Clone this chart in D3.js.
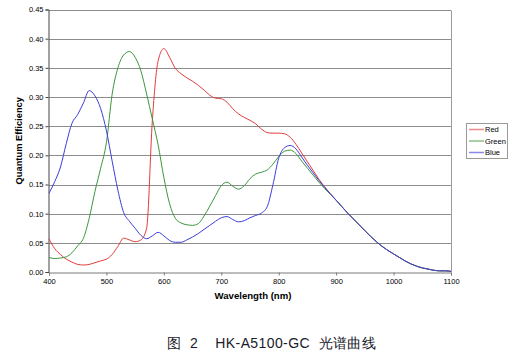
<!DOCTYPE html>
<html><head><meta charset="utf-8">
<script src="https://cdn.jsdelivr.net/npm/d3@7"></script>
<style>
body{margin:0;background:#fff;}
svg{display:block;}
text{font-family:"Liberation Sans",Arial,sans-serif;}
</style></head>
<body>
<script>
const wavelengths = [400,410,420,430,440,450,460,470,480,490,500,510,520,530,540,550,560,570,580,590,600,610,620,630,640,650,660,670,680,690,700,710,720,730,740,750,760,770,780,790,800,810,820,830,840,850,860,870,880,890,900,910,920,930,940,950,960,970,980,990,1000,1010,1020,1030,1040,1050,1060,1070,1080,1090,1100];
const redQE = [0.057,0.040,0.030,0.022,0.017,0.013,0.012,0.013,0.016,0.019,0.022,0.030,0.044,0.058,0.055,0.052,0.055,0.075,0.260,0.362,0.383,0.368,0.349,0.340,0.333,0.327,0.320,0.312,0.303,0.298,0.297,0.291,0.280,0.271,0.265,0.260,0.254,0.245,0.239,0.238,0.238,0.237,0.231,0.219,0.204,0.189,0.174,0.159,0.146,0.134,0.123,0.112,0.101,0.091,0.081,0.071,0.061,0.052,0.044,0.037,0.031,0.025,0.019,0.014,0.010,0.007,0.005,0.003,0.002,0.002,0.001];
const greenQE = [0.025,0.023,0.024,0.026,0.033,0.045,0.058,0.092,0.138,0.178,0.222,0.305,0.350,0.372,0.378,0.368,0.345,0.305,0.262,0.218,0.162,0.117,0.092,0.084,0.081,0.080,0.083,0.096,0.113,0.131,0.148,0.154,0.147,0.142,0.148,0.160,0.168,0.171,0.175,0.185,0.198,0.207,0.209,0.203,0.190,0.178,0.166,0.154,0.143,0.133,0.123,0.112,0.101,0.091,0.081,0.071,0.061,0.052,0.044,0.037,0.031,0.025,0.019,0.014,0.010,0.007,0.005,0.003,0.002,0.002,0.001];
const blueQE = [0.135,0.155,0.180,0.220,0.255,0.270,0.290,0.311,0.302,0.280,0.242,0.190,0.140,0.102,0.087,0.075,0.063,0.057,0.062,0.068,0.062,0.054,0.051,0.051,0.055,0.060,0.066,0.073,0.080,0.087,0.093,0.095,0.090,0.086,0.088,0.093,0.097,0.101,0.112,0.150,0.195,0.213,0.217,0.211,0.197,0.183,0.170,0.157,0.145,0.134,0.123,0.112,0.101,0.091,0.081,0.071,0.061,0.052,0.044,0.037,0.031,0.025,0.019,0.014,0.010,0.007,0.005,0.003,0.002,0.002,0.001];
const seriesNames = ["Red","Green","Blue"];
const seriesColors = ["#e23c3c","#3c963c","#3c3cdc"];
const xTicks = [400,500,600,700,800,900,1000,1100];
const yTicks = [0,0.05,0.10,0.15,0.20,0.25,0.30,0.35,0.40,0.45];
const xTitle = "Wavelength (nm)";
const yTitle = "Quantum Efficiency";
const caption = "图  2    HK-A5100-GC  光谱曲线";

const W = 521, H = 360;
const m = {left:49, right:451, top:9.5, bottom:272};
const svg = d3.select("body").append("svg").attr("width",W).attr("height",H);
const x = d3.scaleLinear().domain([400,1100]).range([m.left,m.right]);
const y = d3.scaleLinear().domain([0,0.45]).range([m.bottom,m.top]);

// gridlines
svg.append("g").selectAll("line").data(yTicks.filter(d=>d>0)).join("line")
  .attr("x1",m.left).attr("x2",m.right)
  .attr("y1",d=>Math.round(y(d))+0.5).attr("y2",d=>Math.round(y(d))+0.5)
  .attr("stroke","#8c8c8c").attr("stroke-width",1);
// right border
svg.append("line").attr("x1",m.right+0.5).attr("x2",m.right+0.5)
  .attr("y1",Math.round(y(0.45))+0.5).attr("y2",m.bottom)
  .attr("stroke","#9a9a9a");

// axes
const xAxis = d3.axisBottom(x).tickValues(xTicks).tickFormat(d3.format("d")).tickSize(3).tickPadding(3);
const gx = svg.append("g").attr("transform",`translate(0,${Math.round(m.bottom)+0.5})`).call(xAxis);
gx.select(".domain").attr("stroke","#7a7a7a");
gx.selectAll(".tick line").attr("stroke","#7a7a7a");
gx.selectAll("text").attr("font-size","7.5px").attr("fill","#000").attr("font-family","Liberation Sans, Arial, sans-serif");

const yAxis = d3.axisLeft(y).tickValues(yTicks).tickFormat(d3.format(".2f")).tickSize(3).tickPadding(2);
const gy = svg.append("g").attr("transform",`translate(${Math.round(m.left)-0.5},0)`).call(yAxis);
gy.select(".domain").attr("stroke","#444");
gy.selectAll(".tick line").attr("stroke","#444");
gy.selectAll("text").attr("font-size","7.5px").attr("fill","#000").attr("font-family","Liberation Sans, Arial, sans-serif");

// lines
const allSeries = [redQE, greenQE, blueQE];
const line = d3.line().x((d,i)=>x(wavelengths[i])).y(d=>y(d)).curve(d3.curveMonotoneX);
allSeries.forEach((vals,k)=>{
  svg.append("path").datum(vals).attr("d",line)
    .attr("fill","none").attr("stroke",seriesColors[k]).attr("stroke-width",1);
});

// titles
svg.append("text").attr("x",(m.left+m.right)/2+3).attr("y",299).attr("text-anchor","middle")
  .attr("font-size","9.6px").attr("font-weight","bold").text(xTitle);
svg.append("text").attr("transform",`translate(22,${(m.top+m.bottom)/2}) rotate(-90)`)
  .attr("text-anchor","middle").attr("font-size","9.3px").attr("font-weight","bold").text(yTitle);

// legend
const lg = svg.append("g");
lg.append("rect").attr("x",466.5).attr("y",123.5).attr("width",41).attr("height",35)
  .attr("fill","#fff").attr("stroke","#9a9a9a");
seriesNames.forEach((n,k)=>{
  const yy = 129.5 + k*11.5;
  lg.append("line").attr("x1",469).attr("x2",484).attr("y1",yy).attr("y2",yy)
    .attr("stroke",seriesColors[k]).attr("stroke-opacity",0.6).attr("stroke-width",1.5);
  lg.append("text").attr("x",485).attr("y",yy+2.6).attr("font-size","7.5px").text(n);
});

// caption
svg.append("text").attr("x",167).attr("y",348).attr("text-anchor","start")
  .attr("font-family","'Noto Sans CJK SC', sans-serif").attr("font-size","14px")
  .attr("letter-spacing","0.4px")
  .attr("fill","#1a1a2a").attr("xml:space","preserve").style("white-space","pre").text(caption);
</script>
</body></html>
